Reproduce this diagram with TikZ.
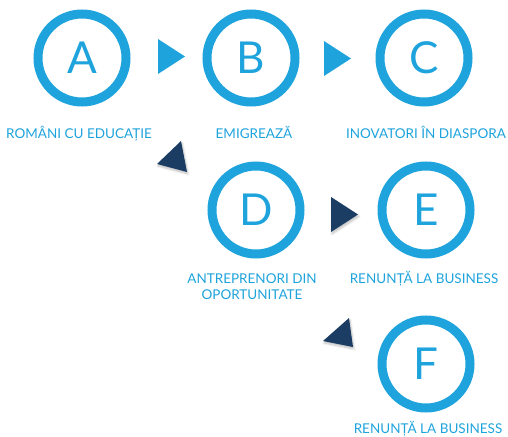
\documentclass[tikz,border=0pt]{standalone}
\usepackage{fontspec}
\setmainfont{Lato}
\usepackage{xcolor}
\usetikzlibrary{shadows.blur}

\definecolor{ringblue}{RGB}{30,163,220}
\definecolor{navy}{RGB}{28,61,99}

\begin{document}
\begin{tikzpicture}[x=1pt,y=-1pt]
\tikzset{ring/.style={circle,draw=ringblue,line width=9pt,minimum size=88pt,inner sep=0pt,text=ringblue,font=\fontsize{44}{44}\selectfont}}
\tikzset{caption/.style={anchor=base,text=ringblue,align=center,font=\fontsize{13.5}{16}\selectfont}}
\tikzset{lightarrow/.style={fill=ringblue}}
\tikzset{darkarrow/.style={fill=navy,blur shadow={shadow xshift=1pt,shadow yshift=-2pt,shadow opacity=25,shadow blur steps=6}}}

\useasboundingbox (0,0) rectangle (508,436);

\node[ring] (a) at (82,58) {A};
\node[ring] (b) at (251,58) {B};
\node[ring] (c) at (424,58) {C};
\node[ring] (d) at (256,210) {D};
\node[ring] (e) at (426,210) {E};
\node[ring] (f) at (426,364) {F};

\node[caption] (la) at (79,138) {ROMÂNI CU EDUCAȚIE};
\node[caption] (lb) at (254,138) {EMIGREAZĂ};
\node[caption] (lc) at (426,138) {INOVATORI ÎN DIASPORA};
\node[caption] (ld) at (252,299) {ANTREPRENORI DIN\\OPORTUNITATE};
\node[caption] (le) at (424,283) {RENUNȚĂ LA BUSINESS};
\node[caption] (lf) at (428,433) {RENUNȚĂ LA BUSINESS};

\fill[lightarrow] (158,39) -- (158,74) -- (185,56.5) -- cycle;
\fill[lightarrow] (324,41) -- (324,76) -- (351,58.5) -- cycle;
\fill[darkarrow] (181,141) -- (157,164) -- (187,172) -- cycle;
\fill[darkarrow] (331,197) -- (331,232) -- (358,214.5) -- cycle;
\fill[darkarrow] (349,318) -- (323,341) -- (353,347) -- cycle;

\end{tikzpicture}
\end{document}
